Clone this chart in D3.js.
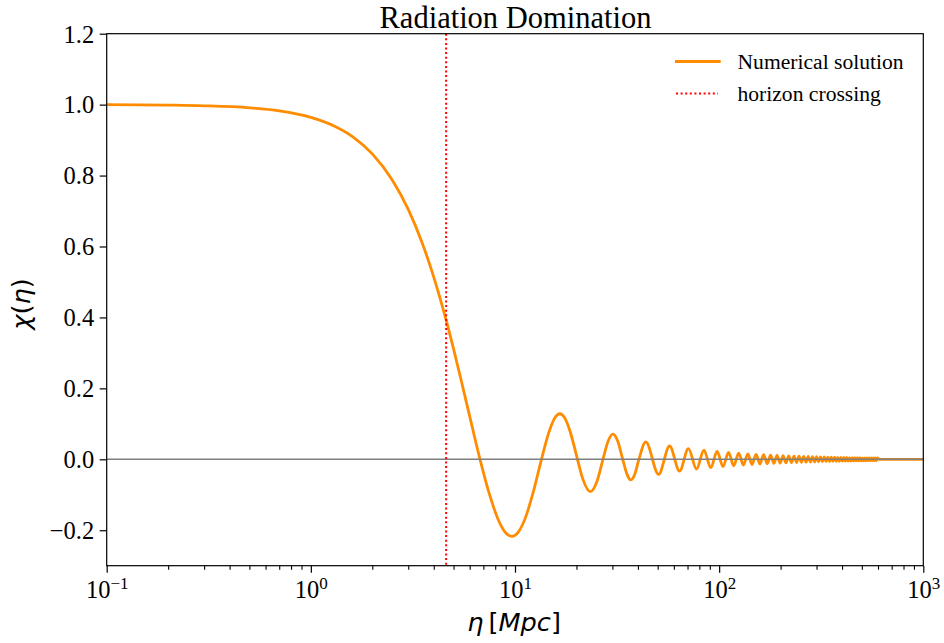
<!DOCTYPE html>
<html>
<head>
<meta charset="utf-8">
<script src="https://cdn.jsdelivr.net/npm/d3@7"></script>
<style>
  body { margin: 0; background: #fff; }
  svg { display: block; }
  .serif { font-family: "Liberation Serif", "Times New Roman", serif; fill: #000; }
  .math { font-family: "DejaVu Sans", sans-serif; fill: #000; }
</style>
</head>
<body>
<svg id="chart" width="944" height="643"></svg>
<script>
// smooth fall-off and the first few big oscillations
var etaMain = [0.1, 0.2, 0.3, 0.5, 0.7, 1.0, 1.3, 1.6, 2.0, 2.5, 3.0, 3.5, 4.0, 4.6, 5.0, 5.5, 6.0,
  6.74, 7.5, 8.3, 9.0, 9.64, 10.4, 11.3, 12.3, 13.48, 14.6, 15.6, 16.58, 17.6, 18.6, 19.6,
  20.23, 21.5, 23.4, 25.3, 26.97, 28.6, 30.19, 31.8, 33.71, 35.3, 36.95, 38.6, 40.45]
var chiMain = [1.000, 0.9986, 0.9967, 0.9910, 0.9823, 0.9641, 0.9399, 0.9099, 0.8612, 0.7885, 0.7047, 0.6120, 0.5138, 0.3923, 0.3114, 0.2130, 0.1211,
  0, -0.0990, -0.1717, -0.2071, -0.2172, -0.2045, -0.1616, -0.0913, 0, 0.0731, 0.1147, 0.1284, 0.1146, 0.0792, 0.0315,
  0, -0.0559, -0.0913, -0.0595, 0, 0.0517, 0.0709, 0.0524, 0, -0.0411, -0.0580, -0.0422, 0]

// peaks and troughs of the damped tail
var etaTail = [43.7, 50.5, 57.2, 64.0, 70.7, 77.5, 84.2, 91.0, 97.7, 104.5, 111.2, 117.9, 124.7, 131.4, 138.2,
  144.9, 151.7, 158.4, 165.1, 171.9, 178.6, 185.4, 192.1, 198.9, 205.6, 212.4, 219.1, 225.8, 232.6, 239.3,
  246.1, 252.8, 259.6, 266.3, 273.0, 279.8, 286.5, 293.3, 300.0, 306.8, 313.5, 320.2, 327.0, 333.7, 340.5,
  347.2, 354.0, 360.7, 367.4, 374.2, 380.9, 387.7, 394.4, 401.2, 407.9,
  414.6, 421.4, 428.1, 434.8, 441.6, 448.3, 455.1, 461.8, 468.5, 475.3, 482.0, 488.8, 495.5, 502.3,
  509.0, 515.7, 522.5, 529.2, 536.0, 542.7, 549.4, 556.2, 562.9, 569.7, 576.4, 583.2, 589.9, 596.6,
  610, 1000]
var chiTail = [0.0491, -0.0425, 0.0375, -0.0335, 0.0303, -0.0277, 0.0255, -0.0236, 0.0220, -0.0205, 0.0193, -0.0182, 0.0172, -0.0163, 0.0155,
  -0.0148, 0.0141, -0.0135, 0.0130, -0.0125, 0.0120, -0.0116, 0.0112, -0.0108, 0.0104, -0.0101, 0.0098, -0.0095, 0.0092, -0.0090,
  0.0087, -0.0085, 0.0083, -0.0081, 0.0079, -0.0077, 0.0075, -0.0073, 0.0072, -0.0070, 0.0068, -0.0067, 0.0066, -0.0064, 0.0063,
  -0.0062, 0.0061, -0.0060, 0.0058, -0.0057, 0.0056, -0.0055, 0.0054, -0.0053, 0.0053,
  -0.0052, 0.0051, -0.0050, 0.0049, -0.0049, 0.0048, -0.0047, 0.0046, -0.0046, 0.0045, -0.0045, 0.0044, -0.0043, 0.0043,
  -0.0042, 0.0042, -0.0041, 0.0041, -0.0040, 0.0040, -0.0039, 0.0039, -0.0038, 0.0038, -0.0037, 0.0037, -0.0036, 0.0036,
  0, 0]

var horizonEta = 4.6
var xDecades = [0.1, 1, 10, 100, 1000]
var yTicks = [-0.2, 0.0, 0.2, 0.4, 0.6, 0.8, 1.0, 1.2]
var legendLabels = ['Numerical solution', 'horizon crossing']
var title = 'Radiation Domination'

var pts = etaMain.map((d, i) => [d, chiMain[i]])
  .concat(etaTail.map((d, i) => [d, chiTail[i]]))

var m = {left: 106.7, top: 33.7, right: 923.3, bottom: 565.7}
var svg = d3.select('#chart')

var x = d3.scaleLog().domain([0.1, 1000]).range([m.left, m.right])
var y = d3.scaleLinear().domain([-0.3, 1.2]).range([m.bottom, m.top])

svg.append('defs').append('clipPath').attr('id', 'clip')
  .append('rect')
  .attr('x', m.left).attr('y', m.top)
  .attr('width', m.right - m.left).attr('height', m.bottom - m.top)

var plot = svg.append('g').attr('clip-path', 'url(#clip)')

var line = d3.line()
  .x(d => x(d[0]))
  .y(d => y(d[1]))
  .curve(d3.curveMonotoneX)

plot.append('path').datum(pts)
  .attr('d', line)
  .attr('fill', 'none')
  .attr('stroke', '#ff8c00')
  .attr('stroke-width', 2.8)
  .attr('stroke-linejoin', 'round')

plot.append('line')
  .attr('x1', m.left).attr('x2', m.right)
  .attr('y1', y(0)).attr('y2', y(0))
  .attr('stroke', '#808080').attr('stroke-width', 1.5)

plot.append('line')
  .attr('x1', x(horizonEta)).attr('x2', x(horizonEta))
  .attr('y1', m.top).attr('y2', m.bottom)
  .attr('stroke', 'red').attr('stroke-width', 2)
  .attr('stroke-dasharray', '2,2.6')

// x axis, major + minor ticks
var minors = []
xDecades.slice(0, -1).forEach(d => d3.range(2, 10).forEach(k => minors.push(d * k)))

svg.append('g')
  .attr('transform', `translate(0,${m.bottom})`)
  .call(d3.axisBottom(x).tickValues(minors).tickSize(4).tickFormat(''))
  .call(g => g.select('.domain').remove())
  .call(g => g.selectAll('line').attr('stroke-width', 1.1))

var xg = svg.append('g')
  .attr('transform', `translate(0,${m.bottom})`)
  .call(d3.axisBottom(x).tickValues(xDecades).tickSize(7).tickFormat(''))
  .call(g => g.select('.domain').remove())
  .call(g => g.selectAll('line').attr('stroke-width', 1.2))

var xl = xg.selectAll('.tick').append('text')
  .attr('class', 'serif')
  .attr('y', 32)
  .attr('text-anchor', 'middle')
  .style('font-size', '24.5px')
xl.append('tspan').text('10')
xl.append('tspan')
  .attr('dy', -8.5)
  .style('font-size', '17px')
  .text(d => {
    var e = Math.round(Math.log10(d))
    return e < 0 ? '\u2212' + (-e) : '' + e
  })

// y axis
svg.append('g')
  .attr('transform', `translate(${m.left},0)`)
  .call(d3.axisLeft(y).tickValues(yTicks).tickSize(7).tickPadding(5.5).tickFormat(d3.format('.1f')))
  .call(g => g.select('.domain').remove())
  .call(g => g.selectAll('line').attr('stroke-width', 1.2))
  .call(g => g.selectAll('text')
    .attr('class', 'serif')
    .attr('dy', '0.34em')
    .style('font-size', '24.5px'))

// frame
svg.append('rect')
  .attr('x', m.left).attr('y', m.top)
  .attr('width', m.right - m.left).attr('height', m.bottom - m.top)
  .attr('fill', 'none').attr('stroke', '#000').attr('stroke-width', 1.2)

// title
svg.append('text').attr('class', 'serif')
  .attr('x', 515.5).attr('y', 27.5)
  .attr('text-anchor', 'middle')
  .style('font-size', '30.5px')
  .text(title)

// axis labels
var xLab = svg.append('text').attr('class', 'math')
  .attr('x', 514).attr('y', 631)
  .attr('text-anchor', 'middle')
  .style('font-size', '25.6px')
xLab.append('tspan').style('font-style', 'italic').text('\u03b7')
xLab.append('tspan').text('\u2009[')
xLab.append('tspan').style('font-style', 'italic').text('Mpc')
xLab.append('tspan').text(']')

var yLab = svg.append('text').attr('class', 'math')
  .attr('transform', 'translate(30,304) rotate(-90)')
  .attr('text-anchor', 'middle')
  .style('font-size', '25.6px')
yLab.append('tspan').style('font-style', 'italic').text('\u03c7')
yLab.append('tspan').text('(')
yLab.append('tspan').style('font-style', 'italic').text('\u03b7')
yLab.append('tspan').text(')')

// legend
var leg = svg.append('g')
leg.append('line')
  .attr('x1', 675).attr('x2', 720.7).attr('y1', 61.5).attr('y2', 61.5)
  .attr('stroke', '#ff8c00').attr('stroke-width', 2.8)
leg.append('line')
  .attr('x1', 676).attr('x2', 718).attr('y1', 93.5).attr('y2', 93.5)
  .attr('stroke', 'red').attr('stroke-width', 2)
  .attr('stroke-dasharray', '2,2.6')
leg.selectAll('text.lab').data(legendLabels).join('text')
  .attr('class', 'serif lab')
  .attr('x', 737.5)
  .attr('y', (d, i) => 69 + i * 31.5)
  .style('font-size', '21.6px')
  .text(d => d)
</script>
</body>
</html>
